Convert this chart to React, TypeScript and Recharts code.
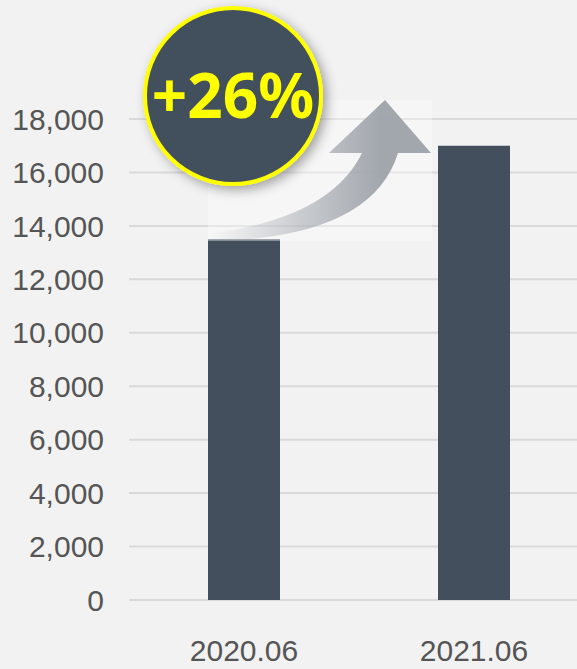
import React from 'react';
import { BarChart, Bar, XAxis, YAxis, CartesianGrid } from 'recharts';

const periods = ['2020.06', '2021.06'];
const amounts = [13500, 17000];
const yTicks = [0, 2000, 4000, 6000, 8000, 10000, 12000, 14000, 16000, 18000];
const growthLabel = '+26%';

const data = periods.map((period, i) => ({ period, amount: amounts[i] }));

const BAR_COLOR = '#434f5c';
const BG = '#f2f2f2';

const App: React.FC = () => {
  return (
    <div
      style={{
        position: 'absolute',
        left: 0,
        top: 0,
        width: 577,
        height: 669,
        overflow: 'hidden',
        background: BG,
        fontFamily: '"Liberation Sans", Arial, sans-serif',
      }}
    >
      <BarChart
        width={589}
        height={669}
        data={data}
        margin={{ top: 119, right: 0, left: 0, bottom: 0 }}
      >
        <CartesianGrid vertical={false} stroke="#d9d9d9" strokeWidth={2} />
        <XAxis
          dataKey="period"
          axisLine={false}
          tickLine={false}
          height={69}
          tickMargin={34}
          tick={{ fontSize: 30, fill: '#555555' }}
        />
        <YAxis
          domain={[0, 18000]}
          ticks={yTicks}
          width={129}
          axisLine={false}
          tickLine={false}
          tickMargin={19}
          interval={0}
          tick={{ fontSize: 30, fill: '#555555' }}
          tickFormatter={(v: number) => v.toLocaleString('en-US')}
        />
        <Bar dataKey="amount" fill={BAR_COLOR} barSize={72} isAnimationActive={false} />
      </BarChart>

      {/* growth annotation: arrow + badge */}
      <svg
        width={577}
        height={669}
        style={{ position: 'absolute', left: 0, top: 0, pointerEvents: 'none' }}
      >
        <defs>
          <linearGradient id="arrowFade" x1="210" y1="0" x2="380" y2="0" gradientUnits="userSpaceOnUse">
            <stop offset="0%" stopColor="#9ea3aa" stopOpacity={0} />
            <stop offset="100%" stopColor="#9ea3aa" stopOpacity={0.95} />
          </linearGradient>
          <filter id="badgeShadow" x="-30%" y="-30%" width="160%" height="160%">
            <feDropShadow dx="4" dy="4" stdDeviation="6" floodColor="#000" floodOpacity={0.35} />
          </filter>
        </defs>
        <rect x={208} y={100} width={224} height={141} fill="#ffffff" opacity={0.35} />
        <path
          d="M 212 233 Q 330 218 362 153 L 329 153 L 385 100 L 431 153 L 398 153 Q 372 238 212 241 Z"
          fill="url(#arrowFade)"
        />
        <circle
          cx={233}
          cy={96}
          r={88}
          fill={BAR_COLOR}
          stroke="#ffff00"
          strokeWidth={4}
          filter="url(#badgeShadow)"
        />
        <text
          x={233}
          y={96}
          dy="0.36em"
          textAnchor="middle"
          fontSize={62}
          fontWeight="bold"
          fill="#ffff00"
          fontFamily='"Noto Sans", "Liberation Sans", sans-serif'
        >
          {growthLabel}
        </text>
      </svg>
    </div>
  );
};

export default App;
